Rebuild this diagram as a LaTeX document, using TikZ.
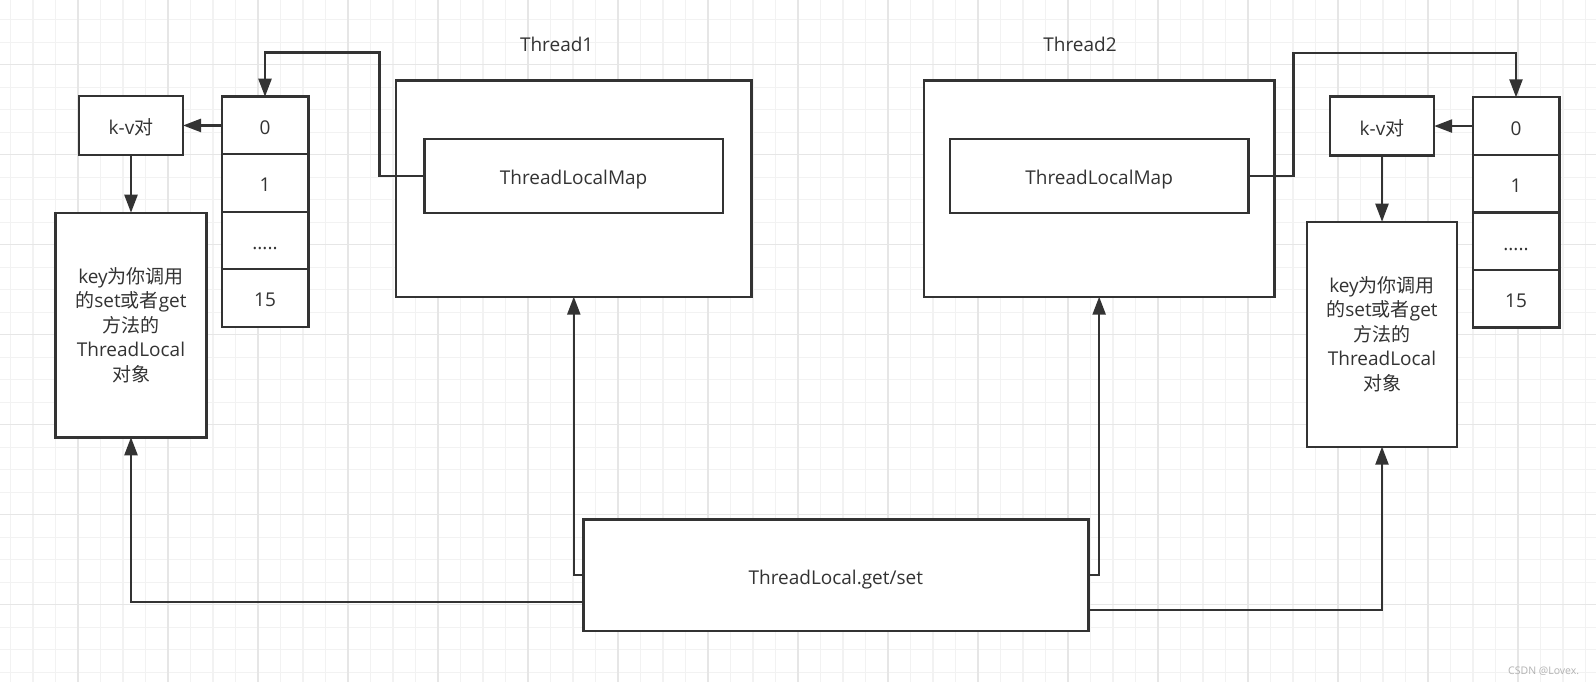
\documentclass[tikz,border=0pt]{standalone}
\usepackage{fontspec}
\setmainfont{Open Sans}
\newfontfamily\cjk{Noto Sans CJK SC}
\usepackage{tikz}
\usetikzlibrary{arrows.meta, positioning}
\definecolor{ink}{HTML}{333333}
\definecolor{gridminor}{HTML}{F2F2F2}
\definecolor{gridmajor}{HTML}{E6E6E6}

\begin{document}
\begin{tikzpicture}[x=1pt, y=-1pt, node distance=0pt,
  box/.style={draw=ink, line width=2.4pt, fill=white, text=ink, outer sep=0pt,
    inner sep=0pt, align=center, font=\fontsize{19}{24.5}\selectfont},
  single/.style={box, text height=18pt, text depth=0pt},
  cell/.style={single, minimum width=86.6pt, minimum height=57.5pt},
  arr/.style={draw=ink, line width=2.4pt, -{Triangle[length=18pt, width=13pt]}},
  lbl/.style={text=ink, font=\fontsize{19}{24}\selectfont}]

  \useasboundingbox (0,0) rectangle (1596,682);
  \fill[white] (0,0) rectangle (1596,682);
  \foreach \i in {0,...,70} \draw[gridminor, line width=1.2pt] ({10.5+22.5*\i},0) -- ++(0,682);
  \foreach \i in {0,...,29} \draw[gridminor, line width=1.2pt] (0,{19.7+22.5*\i}) -- ++(1596,0);
  \foreach \i in {0,...,16} \draw[gridmajor, line width=1.2pt] ({78+90*\i},0) -- ++(0,682);
  \foreach \i in {0,...,6} \draw[gridmajor, line width=1.2pt] (0,{64.7+90*\i}) -- ++(1596,0);

  \node (thA) [box, minimum width=355.7pt, minimum height=216pt] at (573.8,188.7) {};
  \node (mapA) [single, minimum width=298.2pt, minimum height=73.7pt] at (573.6,175.9) {ThreadLocalMap};
  \node (lblA) [lbl] at (556.7,44) {Thread1};
  \node (thB) [box, minimum width=350.3pt, minimum height=216pt] at (1099.15,188.7) {};
  \node (mapB) [single, minimum width=298.3pt, minimum height=73.4pt] at (1099.15,176) {ThreadLocalMap};
  \node (lblB) [lbl] at (1080,44) {Thread2};

  \node (cA0) [cell] at (265,125.45) {0};
  \node (cA1) [cell, below=of cA0] {1};
  \node (cA2) [cell, below=of cA1] {.....};
  \node (cA3) [cell, below=of cA2] {15};
  \node (kvA) [single, minimum width=104pt, minimum height=59pt] at (131,125.45) {k-v{\cjk 对}};
  \node (objA) [box, minimum width=150.7pt, minimum height=224.6pt] at (131,325)
    {key{\cjk 为你调用}\\{\cjk 的}set{\cjk 或者}get\\{\cjk 方法的}\\ThreadLocal\\{\cjk 对象}};

  \node (cB0) [cell] at (1516,126.05) {0};
  \node (cB1) [cell, below=of cB0] {1};
  \node (cB2) [cell, below=of cB1] {.....};
  \node (cB3) [cell, below=of cB2] {15};
  \node (kvB) [single, minimum width=104.3pt, minimum height=59.3pt] at (1382,126.05) {k-v{\cjk 对}};
  \node (objB) [box, minimum width=150pt, minimum height=225pt] at (1382,334.2)
    {key{\cjk 为你调用}\\{\cjk 的}set{\cjk 或者}get\\{\cjk 方法的}\\ThreadLocal\\{\cjk 对象}};

  \node (call) [single, minimum width=505pt, minimum height=111.4pt] at (835.8,575) {ThreadLocal.get/set};
  \node (mark) [text=gray!60, font=\fontsize{10.5}{12}\selectfont] at (1543.7,671) {CSDN @Lovex.};

  \coordinate (bendA) at (379.3,52.5);
  \coordinate (bendB) at (1293.3,53.3);
  \draw[arr] (mapA.west) -| (bendA) -| (cA0.north);
  \draw[arr] (mapB.east) -| (bendB) -| (cB0.north);
  \draw[arr] (cA0.west) -- (kvA.east);
  \draw[arr] (cB0.west) -- (kvB.east);
  \draw[arr] (kvA.south) -- (objA.north);
  \draw[arr] (kvB.south) -- (objB.north);
  \draw[arr] (call.west) -| (thA.south);
  \draw[arr] (call.east) -| (thB.south);
  \draw[arr] ([yshift=-26.7pt]call.west) -| (objA.south);
  \draw[arr] ([yshift=-35pt]call.east) -| (objB.south);
\end{tikzpicture}
\end{document}
